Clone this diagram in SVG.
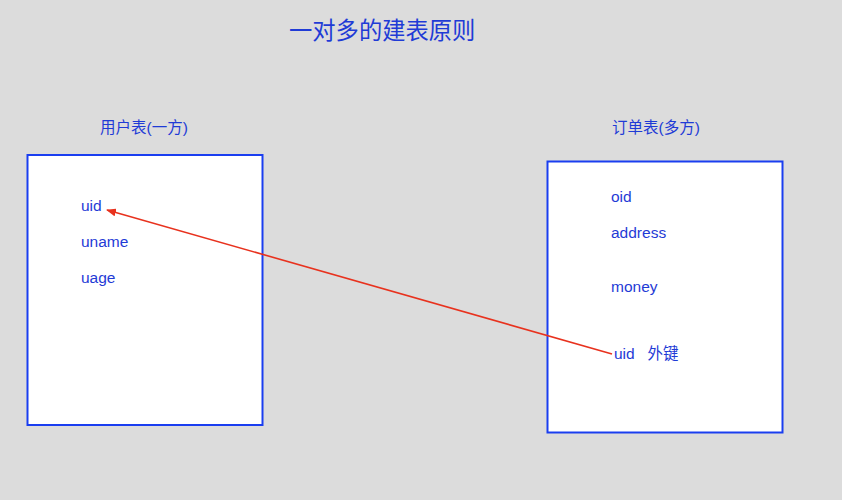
<svg xmlns="http://www.w3.org/2000/svg" width="842" height="500" viewBox="0 0 842 500">
<defs>
<style>
.box{fill:#ffffff;stroke:#1a3ef0;stroke-width:2}
.t{font-family:"Liberation Sans","Noto Sans CJK SC",sans-serif;fill:#1f3bd6;font-size:15.5px}
.h{font-family:"Liberation Sans","Noto Sans CJK SC",sans-serif;fill:#1f3bd6;font-size:23.3px}
.link{stroke:#e8321e;stroke-width:1.6;fill:none}
</style>
<marker id="ah" markerWidth="10" markerHeight="8" refX="9" refY="4" orient="auto" markerUnits="userSpaceOnUse">
<path d="M0,0 L10,4 L0,8 Z" fill="#e8321e"/>
</marker>
</defs>
<rect width="842" height="500" fill="#dcdcdc"/>
<text class="h" x="289" y="39">一对多的建表原则</text>
<g id="users">
<text class="t" x="100" y="133">用户表(一方)</text>
<rect class="box" x="27.5" y="155" width="235" height="270"/>
<text class="t" x="81" y="211">uid</text>
<text class="t" x="81" y="247">uname</text>
<text class="t" x="81" y="283">uage</text>
</g>
<g id="orders">
<text class="t" x="612" y="133">订单表(多方)</text>
<rect class="box" x="547.5" y="161.5" width="235" height="271"/>
<text class="t" x="611" y="202">oid</text>
<text class="t" x="611" y="238">address</text>
<text class="t" x="611" y="292">money</text>
<text class="t" x="614" y="359" xml:space="preserve">uid   外键</text>
</g>
<g id="connectors">
<line class="link" x1="612" y1="354" x2="107" y2="210" marker-end="url(#ah)"/>
</g>
</svg>
